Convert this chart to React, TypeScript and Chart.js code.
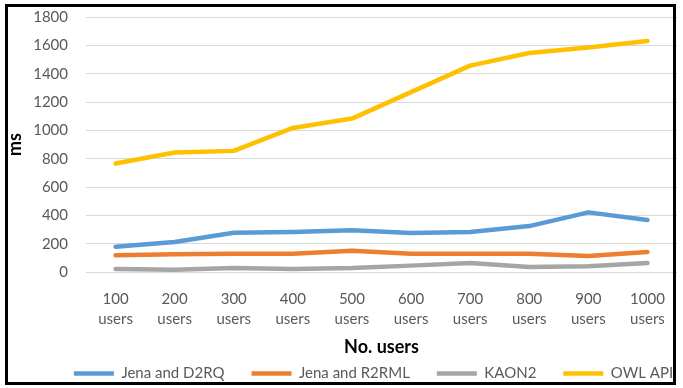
import React, { useEffect, useRef } from 'react';
import { Chart, registerables } from 'chart.js';

Chart.register(...registerables);

const categories = [
  ['100', 'users'], ['200', 'users'], ['300', 'users'], ['400', 'users'], ['500', 'users'],
  ['600', 'users'], ['700', 'users'], ['800', 'users'], ['900', 'users'], ['1000', 'users'],
];
const jenaD2RQ = [179, 212, 277, 282, 294, 275, 282, 324, 421, 367];
const jenaR2RML = [118, 125, 129, 129, 150, 129, 129, 129, 113, 141];
const kaon2 = [21, 16, 28, 21, 28, 45, 63, 35, 40, 63];
const owlApi = [766, 844, 855, 1017, 1083, 1270, 1457, 1546, 1584, 1631];
const seriesNames = ['Jena and D2RQ', 'Jena and R2RML', 'KAON2', 'OWL API'];
const seriesColors = ['#5B9BD5', '#ED7D31', '#A5A5A5', '#FFC000'];
const yMin = 0;
const yMax = 1800;
const yStep = 200;
const xTitle = 'No. users';
const yTitle = 'ms';

const FONT = "Lato, 'Open Sans', sans-serif";

const legendShift = {
  id: 'legendShift',
  afterLayout(chart: any) {
    const l = chart.legend;
    if (!l) return;
    l.left += 33;
    l.right += 33;
    l.top -= 19;
    l.bottom -= 19;
  },
};

export default function App() {
  const ref = useRef<HTMLCanvasElement | null>(null);
  useEffect(() => {
    document.body.style.margin = '0';
    const ctx = ref.current!;
    const values = [jenaD2RQ, jenaR2RML, kaon2, owlApi];
    const chart = new Chart(ctx, {
      type: 'line',
      data: {
        labels: categories,
        datasets: values.map((v, i) => ({
          label: seriesNames[i],
          data: v,
          borderColor: seriesColors[i],
          backgroundColor: seriesColors[i],
          borderWidth: 4.5,
          pointRadius: 0,
          tension: 0,
          borderCapStyle: 'round',
          borderJoinStyle: 'round',
          fill: false,
        })),
      },
      plugins: [legendShift],
      options: {
        responsive: false,
        animation: false,
        layout: { padding: { left: 4, right: 6, top: 0, bottom: -22 } },
        plugins: {
          tooltip: { enabled: false },
          legend: {
            position: 'bottom',
            labels: {
              usePointStyle: true,
              pointStyle: 'line',
              pointStyleWidth: 40,
              boxHeight: 4,
              padding: 27,
              color: '#595959',
              font: { family: FONT, size: 15 },
            },
          },
        },
        scales: {
          x: {
            offset: true,
            grid: { display: false, drawTicks: false },
            border: { display: false },
            ticks: {
              color: '#595959',
              font: { family: FONT, size: 15, lineHeight: 1.35 },
              padding: 17,
              maxRotation: 0,
              autoSkip: false,
            },
            title: {
              display: true,
              text: xTitle,
              color: '#000000',
              font: { family: FONT, size: 18, weight: 'bold' },
              padding: { top: 6, bottom: 0 },
            },
            afterFit: (s: any) => { s.height = 86; },
          },
          y: {
            min: yMin,
            max: yMax,
            grid: { color: '#D9D9D9', lineWidth: 1, drawTicks: true, tickLength: 10, tickColor: 'rgba(0,0,0,0)' },
            border: { display: false },
            ticks: {
              stepSize: yStep,
              color: '#595959',
              font: { family: FONT, size: 15 },
              padding: 8,
              callback: (v: any) => String(v),
            },
            title: {
              display: true,
              text: yTitle,
              color: '#000000',
              font: { family: FONT, size: 18, weight: 'bold' },
              padding: { top: 0, bottom: 0 },
            },
            afterFit: (s: any) => { s.width = 82; },
          },
        },
      },
    } as any);
    return () => chart.destroy();
  }, []);
  return (
    <div style={{ position: 'fixed', left: 0, top: 0, width: 683, height: 388, background: '#fff' }}>
      <canvas ref={ref} width={683} height={388} style={{ position: 'absolute', left: 0, top: 0, width: 683, height: 388 }} />
      <div style={{ position: 'absolute', left: 5, top: 4, width: 665, height: 375, border: '3px solid #000', pointerEvents: 'none' }} />
    </div>
  );
}
